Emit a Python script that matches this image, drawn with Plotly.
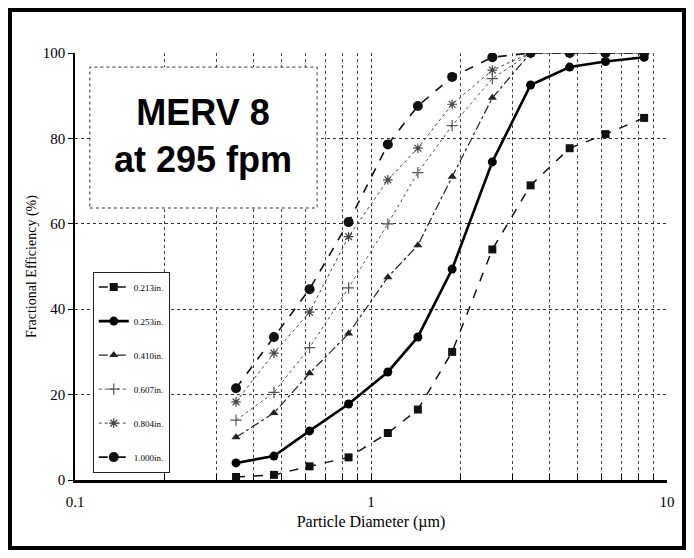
import plotly.graph_objects as go

# ASHRAE 52.2 size-range geometric means (µm)
diam = [0.35, 0.47, 0.62, 0.84, 1.14, 1.44, 1.88, 2.57, 3.46, 4.69, 6.20, 8.37]

eff_0213 = [0.7, 1.2, 3.2, 5.3, 11.0, 16.5, 30.0, 54.0, 69.0, 77.7, 81.0, 84.8]
eff_0253 = [4.0, 5.6, 11.5, 17.8, 25.3, 33.5, 49.4, 74.5, 92.5, 96.7, 98.0, 99.0]
eff_0410 = [10.0, 15.7, 25.0, 34.3, 47.5, 55.0, 71.0, 89.5, 100, 100, 100, 100]
eff_0607 = [14.0, 20.5, 31.0, 45.0, 60.0, 72.0, 83.0, 94.0, 100, 100, 100, 100]
eff_0804 = [18.3, 29.7, 39.3, 57.0, 70.3, 77.7, 88.0, 96.0, 100, 100, 100, 100]
eff_1000 = [21.5, 33.5, 44.7, 60.4, 78.6, 87.6, 94.4, 99.0, 100, 100, 100, 100]

series_names = ["0.213in.", "0.253in.", "0.410in.", "0.607in.", "0.804in.", "1.000in."]
series_vals = [eff_0213, eff_0253, eff_0410, eff_0607, eff_0804, eff_1000]

x_tickvals = [0.1, 1, 10]
x_ticktext = ["0.1", "1", "10"]

styles = [
    dict(line=dict(color="#111", width=1.5, dash="dash"), marker=dict(symbol="square", size=8, color="#111")),
    dict(line=dict(color="#000", width=2.6, dash="solid"), marker=dict(symbol="circle", size=9, color="#000")),
    dict(line=dict(color="#222", width=1.2, dash="dashdot"), marker=dict(symbol="triangle-up", size=8, color="#222")),
    dict(line=dict(color="#555", width=1.0, dash="dot"), marker=dict(symbol="cross-thin", size=8, color="#555", line=dict(width=1.2, color="#555"))),
    dict(line=dict(color="#444", width=1.0, dash="dot"), marker=dict(symbol="asterisk-open", size=8, color="#444", line=dict(width=1.2, color="#444"))),
    dict(line=dict(color="#111", width=1.6, dash="dash"), marker=dict(symbol="circle", size=10, color="#111")),
]

fig = go.Figure()
for i, (name, vals, st) in enumerate(zip(series_names, series_vals, styles)):
    fig.add_trace(go.Scatter(
        x=diam, y=vals, name=name, mode="lines+markers",
        legendgroup=f"g{i}", **st,
    ))

serif = "Liberation Serif, Times New Roman, serif"

fig.update_layout(
    width=678, height=542,
    margin=dict(l=67, r=19, t=45, b=70),
    paper_bgcolor="white", plot_bgcolor="white",
    font=dict(family=serif, color="black", size=15),
    showlegend=True,
    legend=dict(
        x=0.03, y=0.488, xanchor="left", yanchor="top",
        bgcolor="white", bordercolor="#222", borderwidth=1,
        font=dict(family=serif, size=9, color="black"),
        itemwidth=30, tracegroupgap=15,
    ),
    xaxis=dict(
        type="log", range=[-1, 1],
        tickvals=x_tickvals, ticktext=x_ticktext,
        ticks="inside", ticklen=6, tickcolor="black",
        ticklabelstandoff=6,
        showline=True, linecolor="black", linewidth=2.5,
        showgrid=True, gridcolor="#333", griddash="dot", gridwidth=1,
        minor=dict(dtick="D1", ticks="inside", ticklen=6, tickcolor="black",
                   showgrid=True, gridcolor="#444", griddash="dot", gridwidth=1),
        zeroline=False,
        title=dict(text="Particle Diameter (µm)", font=dict(family=serif, size=16), standoff=8),
        tickfont=dict(family=serif, size=15),
    ),
    yaxis=dict(
        range=[0, 100], dtick=20,
        ticks="outside", ticklen=5, tickcolor="black",
        showline=True, linecolor="black", linewidth=1.5,
        showgrid=True, gridcolor="#333", griddash="dot", gridwidth=1,
        zeroline=False,
        title=dict(text="Fractional Efficiency (%)", font=dict(family=serif, size=14), standoff=3),
        tickfont=dict(family=serif, size=15),
    ),
    shapes=[
        # title box
        dict(type="rect", xref="paper", yref="paper", x0=0.025, x1=0.409, y0=0.637, y1=0.967,
             fillcolor="white", line=dict(color="#333", width=1, dash="dot"), layer="above"),
        # outer frame
        dict(type="rect", xref="paper", yref="paper", x0=-0.1098, x1=1.0287, y0=-0.1593, y1=1.1007,
             fillcolor="rgba(0,0,0,0)", line=dict(color="black", width=4), layer="above"),
    ],
    annotations=[
        dict(text="<b>MERV 8</b><br><b>at 295 fpm</b>", xref="paper", yref="paper",
             x=0.217, y=0.805, xanchor="center", yanchor="middle", showarrow=False,
             font=dict(family="Liberation Sans, Arial, sans-serif", size=36, color="black")),
    ],
)

fig.write_html("out.html")
